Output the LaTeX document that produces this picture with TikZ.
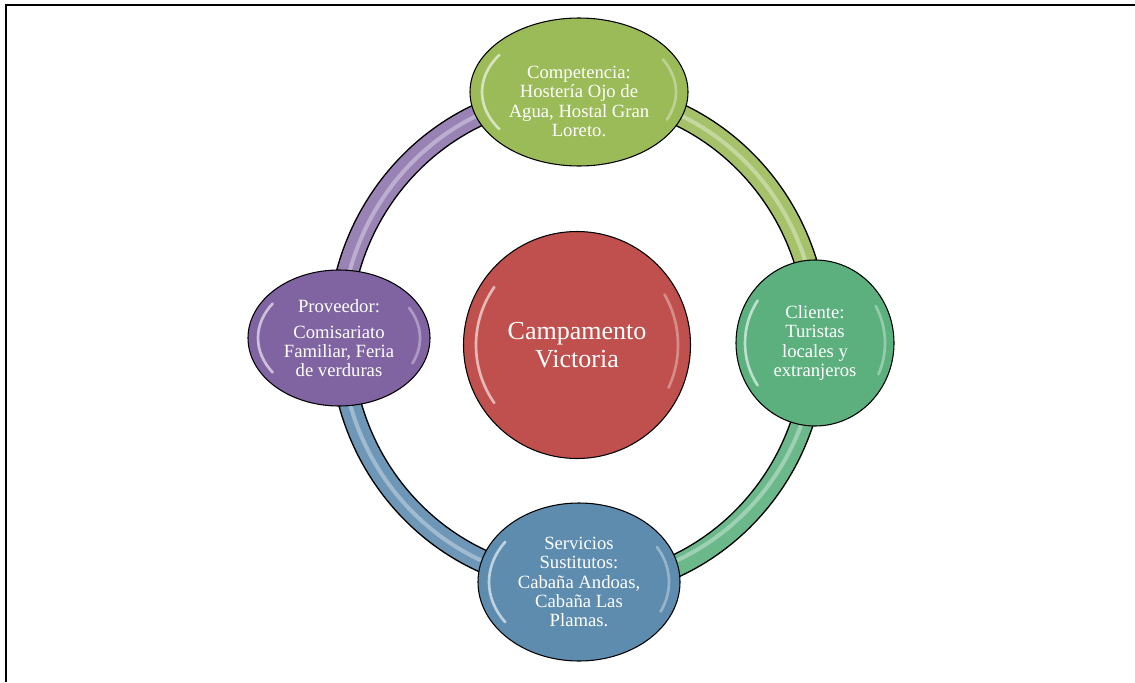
\documentclass[tikz,border=0pt]{standalone}
\usepackage{fontspec}
\setmainfont{Liberation Serif}
\usetikzlibrary{backgrounds,shapes.geometric}

\definecolor{campred}{HTML}{C0504D}
\definecolor{compgreen}{HTML}{9BBB59}
\definecolor{clientgreen}{HTML}{5BB07E}
\definecolor{servblue}{HTML}{5E8CAF}
\definecolor{provpurple}{HTML}{8064A2}

\tikzset{
    bubble/.style n args={3}{ellipse, draw=black, line width=0.8pt, fill=#1,
        minimum width={0.75pt*#2}, minimum height={0.75pt*#3}, inner sep=0pt,
        text=white, align=center, font=\fontsize{14}{14.5}\selectfont},
    txt/.style={text=white, align=center, font=\fontsize{14}{14.5}\selectfont},
    gloss/.style={draw=white, opacity=.6, line width=2pt, line cap=round},
    ring/.style={draw=black, line width=1.1pt, double=#1, double distance=15.5pt},
    shine/.style={draw=white, opacity=.35, line width=3pt},
}

% light crescents along the left and right inner rim of a bubble
\newcommand\glossy[3]{
    \begin{scope}[shift={(#1.center)}]
        \draw[gloss] (-145:{#2} and {#3}) arc[start angle=-145, end angle=-215, x radius=#2, y radius=#3];
        \draw[gloss, opacity=.35] (-30:{#2} and {#3}) arc[start angle=-30, end angle=25, x radius=#2, y radius=#3];
    \end{scope}
}

\begin{document}
\begin{tikzpicture}[x=0.75pt, y=-0.75pt]
    \useasboundingbox (0,0) rectangle (1135,682);
    \draw[line width=1.9pt] (6,682) -- (6,5) -- (1135,5);

    \node[bubble={campred}{227}{227}, font=\fontsize{19.5}{21}\selectfont] (camp) at (577,345) {Campamento\\Victoria};
    \node[bubble={compgreen}{218}{148}] (comp) at (579,92) {};
    \node[txt] at ([yshift=-7pt]comp.center) {Competencia:\\Hostería Ojo de\\Agua, Hostal Gran\\Loreto.};
    \node[bubble={clientgreen}{158}{166}] (client) at (815,343) {Cliente:\\Turistas\\locales y\\extranjeros};
    \node[bubble={servblue}{202}{158}] (serv) at (579,582) {Servicios\\Sustitutos:\\Cabaña Andoas,\\Cabaña Las\\Plamas.};
    \node[bubble={provpurple}{182}{136}] (prov) at (339,338) {Proveedor:\\[5pt]Comisariato\\Familiar, Feria\\de verduras};

    \glossy{camp}{101}{101}
    \glossy{comp}{97}{65}
    \glossy{client}{70}{74}
    \glossy{serv}{90}{70}
    \glossy{prov}{81}{60}

    \begin{scope}[on background layer]
        \draw[ring=compgreen!90!white] (comp.center) arc[start angle=-90, end angle=0, x radius=238, y radius=245];
        \draw[ring=clientgreen!90!white] (client.center) arc[start angle=0, end angle=90, x radius=238, y radius=245];
        \draw[ring=servblue!90!white] (serv.center) arc[start angle=90, end angle=180, x radius=238, y radius=245];
        \draw[ring=provpurple!80!white] (prov.center) arc[start angle=180, end angle=270, x radius=238, y radius=245];
        \draw[shine] (comp.center) arc[start angle=-90, end angle=270, x radius=238, y radius=245];
    \end{scope}
\end{tikzpicture}
\end{document}
